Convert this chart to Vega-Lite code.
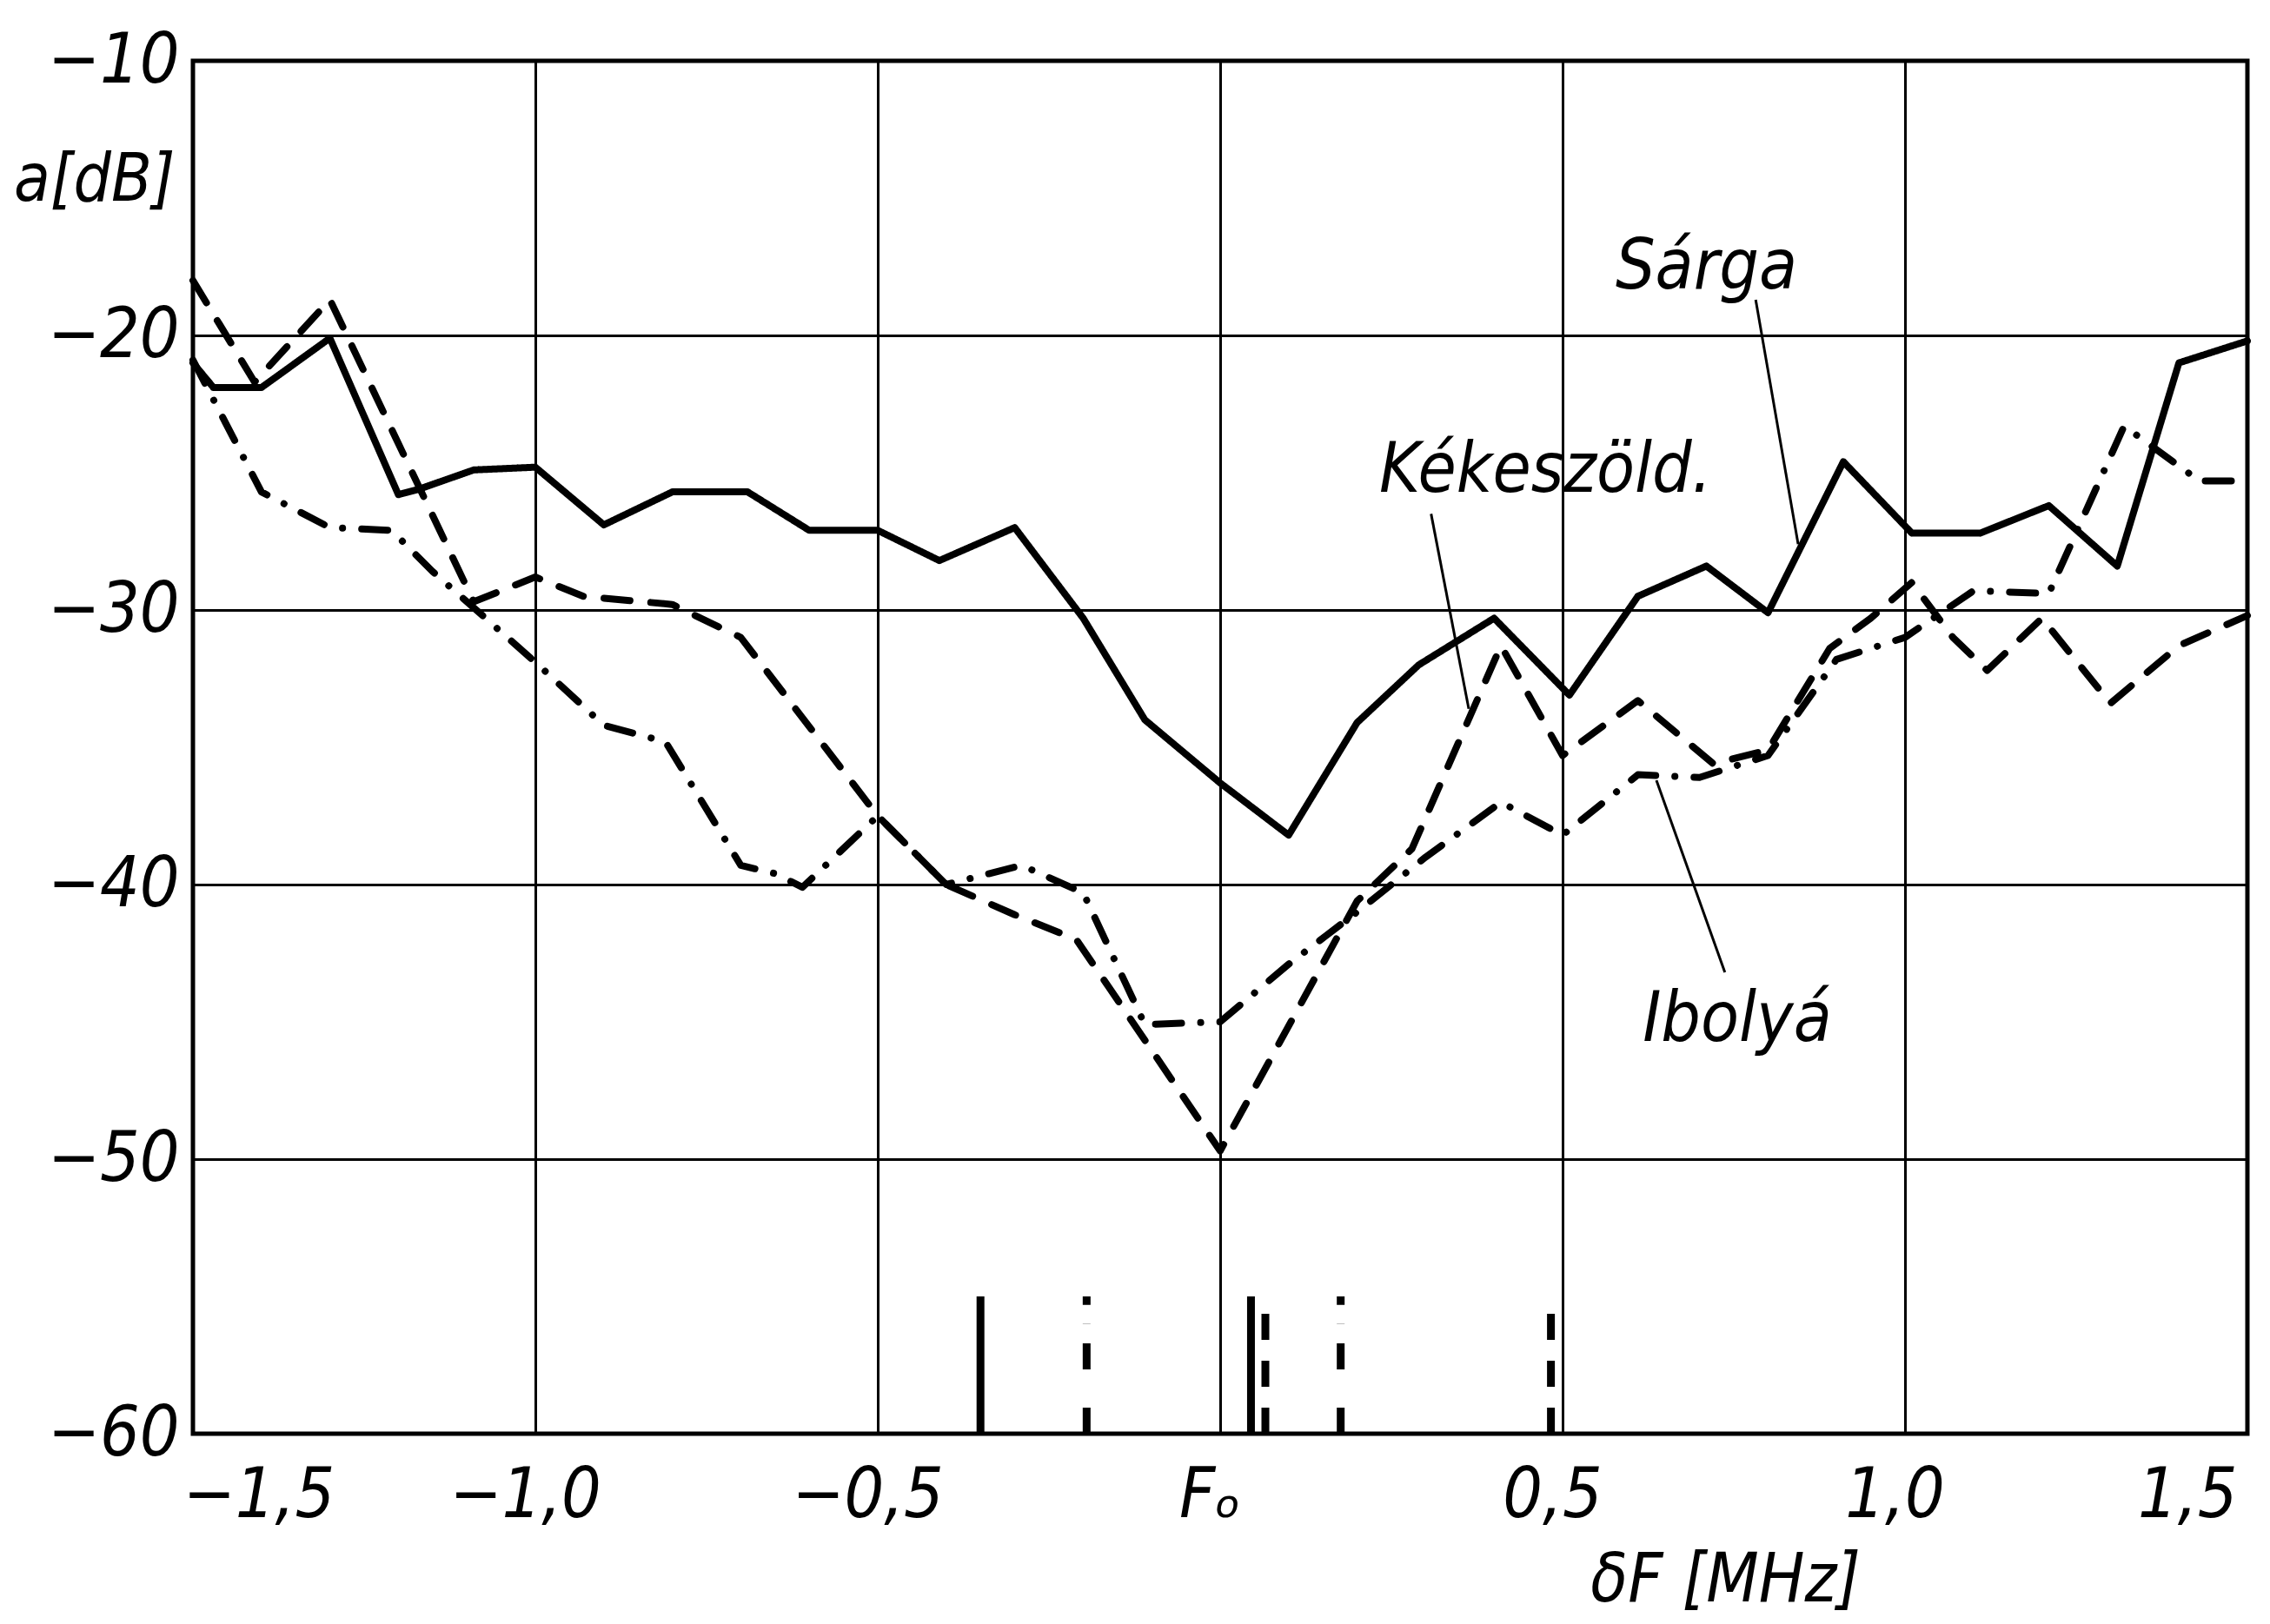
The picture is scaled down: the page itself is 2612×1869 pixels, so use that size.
{
  "$schema": "https://vega.github.io/schema/vega-lite/v6.json",
  "width": 2364,
  "height": 1580,
  "autosize": {"type": "none"},
  "padding": {"left": 222, "top": 70, "right": 26, "bottom": 219},
  "background": "white",
  "config": {
    "view": {"stroke": "black", "strokeWidth": 5},
    "font": "DejaVu Sans Condensed, DejaVu Sans, sans-serif"
  },
  "datasets": {
    "curves": [
      {"s": "Sárga", "x": -1.5, "y": -21.0}, {"s": "Sárga", "x": -1.47, "y": -21.9}, {"s": "Sárga", "x": -1.40, "y": -21.9},
      {"s": "Sárga", "x": -1.30, "y": -20.1}, {"s": "Sárga", "x": -1.20, "y": -25.8}, {"s": "Sárga", "x": -1.17, "y": -25.6},
      {"s": "Sárga", "x": -1.09, "y": -24.9}, {"s": "Sárga", "x": -1.0, "y": -24.8}, {"s": "Sárga", "x": -0.90, "y": -26.9},
      {"s": "Sárga", "x": -0.80, "y": -25.7}, {"s": "Sárga", "x": -0.69, "y": -25.7}, {"s": "Sárga", "x": -0.60, "y": -27.1},
      {"s": "Sárga", "x": -0.50, "y": -27.1}, {"s": "Sárga", "x": -0.41, "y": -28.2}, {"s": "Sárga", "x": -0.30, "y": -27.0},
      {"s": "Sárga", "x": -0.20, "y": -30.3}, {"s": "Sárga", "x": -0.11, "y": -34.0}, {"s": "Sárga", "x": 0.0, "y": -36.3},
      {"s": "Sárga", "x": 0.10, "y": -38.2}, {"s": "Sárga", "x": 0.20, "y": -34.1}, {"s": "Sárga", "x": 0.29, "y": -32.0},
      {"s": "Sárga", "x": 0.40, "y": -30.3}, {"s": "Sárga", "x": 0.51, "y": -33.1}, {"s": "Sárga", "x": 0.61, "y": -29.5},
      {"s": "Sárga", "x": 0.71, "y": -28.4}, {"s": "Sárga", "x": 0.80, "y": -30.1}, {"s": "Sárga", "x": 0.91, "y": -24.6},
      {"s": "Sárga", "x": 1.01, "y": -27.2}, {"s": "Sárga", "x": 1.11, "y": -27.2}, {"s": "Sárga", "x": 1.21, "y": -26.2},
      {"s": "Sárga", "x": 1.31, "y": -28.4}, {"s": "Sárga", "x": 1.40, "y": -21.0}, {"s": "Sárga", "x": 1.5, "y": -20.2},

      {"s": "Kékeszöld", "x": -1.5, "y": -18.0}, {"s": "Kékeszöld", "x": -1.41, "y": -21.7}, {"s": "Kékeszöld", "x": -1.30, "y": -18.7},
      {"s": "Kékeszöld", "x": -1.09, "y": -29.7}, {"s": "Kékeszöld", "x": -1.0, "y": -28.8}, {"s": "Kékeszöld", "x": -0.93, "y": -29.5},
      {"s": "Kékeszöld", "x": -0.80, "y": -29.8}, {"s": "Kékeszöld", "x": -0.70, "y": -31.0}, {"s": "Kékeszöld", "x": -0.50, "y": -37.5},
      {"s": "Kékeszöld", "x": -0.40, "y": -40.0}, {"s": "Kékeszöld", "x": -0.30, "y": -41.1}, {"s": "Kékeszöld", "x": -0.21, "y": -42.0},
      {"s": "Kékeszöld", "x": 0.0, "y": -49.7}, {"s": "Kékeszöld", "x": 0.20, "y": -40.6}, {"s": "Kékeszöld", "x": 0.28, "y": -38.7},
      {"s": "Kékeszöld", "x": 0.41, "y": -31.3}, {"s": "Kékeszöld", "x": 0.50, "y": -35.3}, {"s": "Kékeszöld", "x": 0.61, "y": -33.3},
      {"s": "Kékeszöld", "x": 0.72, "y": -35.6}, {"s": "Kékeszöld", "x": 0.80, "y": -35.1}, {"s": "Kékeszöld", "x": 0.89, "y": -31.4},
      {"s": "Kékeszöld", "x": 0.95, "y": -30.3}, {"s": "Kékeszöld", "x": 1.01, "y": -29.0}, {"s": "Kékeszöld", "x": 1.07, "y": -31.0},
      {"s": "Kékeszöld", "x": 1.12, "y": -32.2}, {"s": "Kékeszöld", "x": 1.20, "y": -30.3}, {"s": "Kékeszöld", "x": 1.30, "y": -33.4},
      {"s": "Kékeszöld", "x": 1.40, "y": -31.3}, {"s": "Kékeszöld", "x": 1.5, "y": -30.2},

      {"s": "Ibolyá", "x": -1.5, "y": -20.9}, {"s": "Ibolyá", "x": -1.40, "y": -25.7}, {"s": "Ibolyá", "x": -1.30, "y": -27.0},
      {"s": "Ibolyá", "x": -1.21, "y": -27.1}, {"s": "Ibolyá", "x": -1.15, "y": -28.6}, {"s": "Ibolyá", "x": -1.0, "y": -31.9},
      {"s": "Ibolyá", "x": -0.90, "y": -34.2}, {"s": "Ibolyá", "x": -0.81, "y": -34.8}, {"s": "Ibolyá", "x": -0.70, "y": -39.3},
      {"s": "Ibolyá", "x": -0.65, "y": -39.6}, {"s": "Ibolyá", "x": -0.61, "y": -40.1}, {"s": "Ibolyá", "x": -0.50, "y": -37.5},
      {"s": "Ibolyá", "x": -0.40, "y": -40.0}, {"s": "Ibolyá", "x": -0.29, "y": -39.3}, {"s": "Ibolyá", "x": -0.20, "y": -40.3},
      {"s": "Ibolyá", "x": -0.11, "y": -45.1}, {"s": "Ibolyá", "x": 0.0, "y": -45.0}, {"s": "Ibolyá", "x": 0.10, "y": -42.9},
      {"s": "Ibolyá", "x": 0.20, "y": -41.0}, {"s": "Ibolyá", "x": 0.30, "y": -39.0}, {"s": "Ibolyá", "x": 0.41, "y": -37.0},
      {"s": "Ibolyá", "x": 0.50, "y": -38.2}, {"s": "Ibolyá", "x": 0.61, "y": -36.0}, {"s": "Ibolyá", "x": 0.70, "y": -36.1},
      {"s": "Ibolyá", "x": 0.80, "y": -35.3}, {"s": "Ibolyá", "x": 0.90, "y": -31.8}, {"s": "Ibolyá", "x": 1.0, "y": -31.0},
      {"s": "Ibolyá", "x": 1.10, "y": -29.3}, {"s": "Ibolyá", "x": 1.21, "y": -29.4}, {"s": "Ibolyá", "x": 1.32, "y": -23.3},
      {"s": "Ibolyá", "x": 1.43, "y": -25.3}, {"s": "Ibolyá", "x": 1.5, "y": -25.3}
    ],
    "bars": [
      {"s": "Sárga", "x": -0.35, "y": -60, "y2": -55},
      {"s": "Ibolyá", "x": -0.195, "y": -60, "y2": -55},
      {"s": "Sárga", "x": 0.045, "y": -60, "y2": -55},
      {"s": "Kékeszöld", "x": 0.066, "y": -60, "y2": -55},
      {"s": "Ibolyá", "x": 0.176, "y": -60, "y2": -55},
      {"s": "Kékeszöld", "x": 0.483, "y": -60, "y2": -55}
    ],
    "leaders": [
      {"x": 0.782, "y": -18.7, "x2": 0.844, "y2": -27.6},
      {"x": 0.308, "y": -26.5, "x2": 0.363, "y2": -33.6},
      {"x": 0.737, "y": -43.2, "x2": 0.637, "y2": -36.2}
    ],
    "labels": [
      {"t": "Sárga", "x": 0.71, "y": -18.3},
      {"t": "Kékeszöld.", "x": 0.475, "y": -25.7},
      {"t": "Ibolyá", "x": 0.755, "y": -45.7}
    ]
  },
  "layer": [
    {
      "data": {"name": "curves"},
      "mark": {"type": "line", "color": "black", "strokeWidth": 8, "strokeCap": "round", "strokeJoin": "round"},
      "encoding": {
        "x": {
          "field": "x", "type": "quantitative",
          "scale": {"domain": [-1.5, 1.5], "nice": false, "zero": false},
          "axis": {
            "values": [-1.5, -1, -0.5, 0, 0.5, 1, 1.5],
            "grid": true, "gridColor": "black", "gridWidth": 3, "gridOpacity": 1,
            "ticks": false, "domain": false,
            "labelExpr": "datum.value == 0 ? 'Fₒ' : replace(format(datum.value, '.1f'), '.', ',')",
            "labelFontSize": 80, "labelFontStyle": "italic", "labelColor": "black", "labelLimit": 1000,
            "labelPadding": 32, "labelBaseline": "top", "labelFlush": false, "labelOverlap": false,
            "labelOffset": -12,
            "labelAlign": {"condition": [{"test": "datum.value == 1.5", "value": "right"}, {"test": "datum.value == -1.5", "value": "left"}], "value": "center"},
            "title": "δF [MHz]", "titleFontSize": 78, "titleFontStyle": "italic", "titleFontWeight": "normal",
            "titleColor": "black", "titleX": 1763, "titleY": 192, "titleAlign": "center", "titleBaseline": "alphabetic",
            "titleLimit": 2000
          }
        },
        "y": {
          "field": "y", "type": "quantitative",
          "scale": {"domain": [-60, -10], "nice": false, "zero": false},
          "axis": {
            "values": [-60, -50, -40, -30, -20, -10],
            "grid": true, "gridColor": "black", "gridWidth": 3, "gridOpacity": 1,
            "ticks": false, "domain": false,
            "labelFontSize": 80, "labelFontStyle": "italic", "labelColor": "black", "labelLimit": 1000,
            "labelPadding": 16, "labelFlush": false, "labelOverlap": false,
            "title": "a[dB]", "titleAngle": 0, "titleFontSize": 76, "titleFontStyle": "italic", "titleFontWeight": "normal",
            "titleColor": "black", "titleX": -21, "titleY": 160, "titleAlign": "right", "titleBaseline": "alphabetic",
            "titleLimit": 2000
          }
        },
        "strokeDash": {
          "field": "s", "type": "nominal",
          "scale": {"domain": ["Sárga", "Kékeszöld", "Ibolyá"], "range": [[1, 0], [30, 24], [30, 22, 0.1, 22]]},
          "legend": null
        }
      }
    },
    {
      "data": {"name": "bars"},
      "mark": {"type": "rule", "color": "black", "strokeWidth": 9},
      "encoding": {
        "x": {"field": "x", "type": "quantitative"},
        "y": {"field": "y", "type": "quantitative"},
        "y2": {"field": "y2"},
        "strokeDash": {
          "field": "s", "type": "nominal",
          "scale": {"domain": ["Sárga", "Kékeszöld", "Ibolyá"], "range": [[1, 0], [30, 24], [30, 22, 0.1, 22]]},
          "legend": null
        }
      }
    },
    {
      "data": {"name": "leaders"},
      "mark": {"type": "rule", "color": "black", "strokeWidth": 3},
      "encoding": {
        "x": {"field": "x", "type": "quantitative"},
        "y": {"field": "y", "type": "quantitative"},
        "x2": {"field": "x2"},
        "y2": {"field": "y2"}
      }
    },
    {
      "data": {"name": "labels"},
      "mark": {"type": "text", "color": "black", "fontSize": 80, "fontStyle": "italic", "align": "center", "baseline": "alphabetic"},
      "encoding": {
        "x": {"field": "x", "type": "quantitative"},
        "y": {"field": "y", "type": "quantitative"},
        "text": {"field": "t"}
      }
    }
  ]
}
